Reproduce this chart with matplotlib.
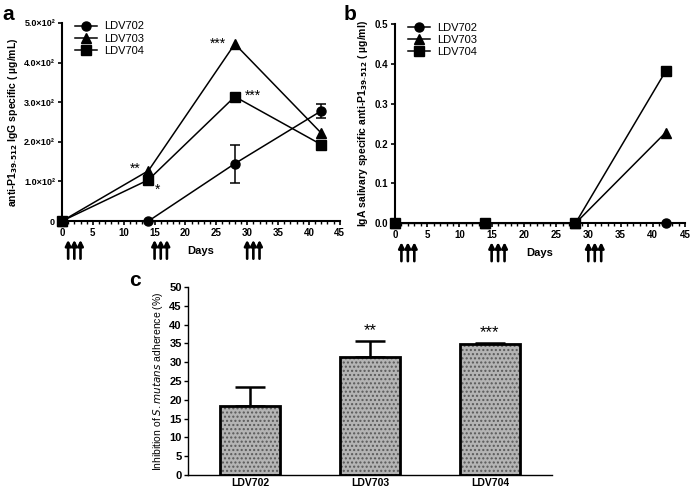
import matplotlib
matplotlib.use("Agg")
import matplotlib.pyplot as plt
from matplotlib.ticker import MultipleLocator, FixedLocator

plt.rcParams['font.family'] = ['Liberation Sans', 'DejaVu Sans']

# ---------------- data ----------------
days = [0, 14, 28, 42]
igg_702 = [0, 0, 145, 278]
igg_702_err = [0, 0, 48, 18]
igg_703 = [0, 127, 447, 222]
igg_704 = [0, 104, 314, 193]

iga_702 = [0, 0, 0, 0]
iga_703 = [0, 0, 0, 0.228]
iga_704 = [0, 0, 0, 0.382]

immun_days = [1, 2, 3, 15, 16, 17, 30, 31, 32]

groups = ['LDV702', 'LDV703', 'LDV704']
inhibition = [18.3, 31.3, 34.8]
inhibition_err = [5.2, 4.3, 0.4]
inhibition_sig = ['', '**', '***']

igg_ticks = [0, 100, 200, 300, 400, 500]
igg_ticklabels = ['0', '1.0×10²', '2.0×10²', '3.0×10²', '4.0×10²', '5.0×10²']

fig = plt.figure(figsize=(6.91, 4.88), dpi=100)

axA = fig.add_axes([0.0897, 0.547, 0.402, 0.406])
axB = fig.add_axes([0.5716, 0.5424, 0.4197, 0.408])
axC = fig.add_axes([0.272, 0.0266, 0.527, 0.3853])


def style_time_axis(ax):
    for s in ['top', 'right']:
        ax.spines[s].set_visible(False)
    for s in ['left', 'bottom']:
        ax.spines[s].set_linewidth(1.5)
    ax.set_xlim(0, 45)
    ax.xaxis.set_major_locator(MultipleLocator(5))
    ax.xaxis.set_minor_locator(MultipleLocator(1))
    ax.tick_params(axis='both', which='major', direction='out', length=3, width=1.2, labelsize=7, pad=2)
    ax.tick_params(axis='x', which='minor', direction='out', length=2, width=1)
    for lab in ax.get_xticklabels() + ax.get_yticklabels():
        lab.set_fontweight('bold')
    ax.text(0.5, -0.15, 'Days', transform=ax.transAxes, ha='center', va='center',
            fontsize=8, fontweight='bold')
    for d in immun_days:
        ax.annotate('', xy=(d, -0.095), xycoords=('data', 'axes fraction'),
                    xytext=(d, -0.19), textcoords=('data', 'axes fraction'),
                    arrowprops=dict(arrowstyle='-|>', lw=1.9, color='black',
                                    mutation_scale=8, shrinkA=0, shrinkB=0),
                    annotation_clip=False)


line_kw = dict(color='black', lw=1.1, markersize=6.5, clip_on=False, zorder=3)
leg_kw = dict(loc='upper left', bbox_to_anchor=(0.03, 1.03), frameon=False,
              fontsize=8, handlelength=2.0, handletextpad=0.6,
              labelspacing=0.2, borderaxespad=0)

# ---------------- panel a ----------------
hA1 = axA.errorbar(days, igg_702, yerr=igg_702_err, marker='o', capsize=3.5,
                   elinewidth=1.1, capthick=1.1, label='LDV702', **line_kw)
hA2, = axA.plot(days, igg_703, marker='^', label='LDV703', **line_kw)
hA3, = axA.plot(days, igg_704, marker='s', label='LDV704', **line_kw)
axA.set_ylim(0, 500)
axA.yaxis.set_major_locator(FixedLocator(igg_ticks))
axA.set_yticklabels(igg_ticklabels)
style_time_axis(axA)
for lab in axA.get_yticklabels():
    lab.set_fontsize(6.5)
axA.set_ylabel(r'anti-P1$_{\mathbf{39\text{-}512}}$ IgG specific ( µg/mL)',
               fontsize=7.5, fontweight='bold', labelpad=3)
axA.text(11.8, 132, '**', fontsize=10, ha='center', va='center')
axA.text(15.4, 80, '*', fontsize=10, ha='center', va='center')
axA.text(25.3, 447, '***', fontsize=10, ha='center', va='center')
axA.text(31.0, 316, '***', fontsize=10, ha='center', va='center')
axA.legend([hA1[0], hA2, hA3], groups, **leg_kw)

# ---------------- panel b ----------------
axB.plot(days, iga_702, marker='o', label='LDV702', **line_kw)
axB.plot(days, iga_703, marker='^', label='LDV703', **line_kw)
axB.plot(days, iga_704, marker='s', label='LDV704', **line_kw)
axB.set_ylim(0, 0.5)
axB.yaxis.set_major_locator(MultipleLocator(0.1))
axB.yaxis.set_major_formatter(matplotlib.ticker.FormatStrFormatter('%.1f'))
style_time_axis(axB)
axB.set_ylabel(r'IgA salivary specific anti-P1$_{\mathbf{39\text{-}512}}$ ( µg/ml)',
               fontsize=7.5, fontweight='bold', labelpad=3)
axB.legend(**leg_kw)

# ---------------- panel c ----------------
xpos = list(range(len(groups)))
bars = axC.bar(xpos, inhibition, width=0.5, color='#b4b4b4', edgecolor='black',
               linewidth=2, hatch='....', zorder=2)
for b in bars:
    b._hatch_color = (0.35, 0.35, 0.35, 1.0)
axC.errorbar(xpos, inhibition, yerr=[[0] * len(groups), inhibition_err], fmt='none',
             ecolor='black', elinewidth=1.8, capsize=11, capthick=1.8, zorder=1)
for x, v, e, s in zip(xpos, inhibition, inhibition_err, inhibition_sig):
    if s:
        axC.text(x, v + e + 0.8, s, ha='center', va='bottom', fontsize=12)
axC.set_xlim(-0.52, 2.52)
axC.set_ylim(0, 50)
axC.yaxis.set_major_locator(MultipleLocator(5))
axC.set_xticks(xpos)
axC.set_xticklabels(groups, fontsize=7.5, fontweight='bold')
axC.tick_params(axis='x', length=0, pad=2)
axC.tick_params(axis='y', direction='out', length=3, width=1, labelsize=8, pad=1.5)
for lab in axC.get_yticklabels():
    lab.set_fontweight('bold')
for s in ['top', 'right']:
    axC.spines[s].set_visible(False)
axC.spines['left'].set_linewidth(1.0)
axC.spines['bottom'].set_linewidth(1.0)
axC.set_ylabel(r'Inhibition of $\it{S. mutans}$ adherence (%)', fontsize=7.5, labelpad=3)

# panel letters
fig.text(0.003, 0.99, 'a', fontsize=15, fontweight='bold', va='top', ha='left')
fig.text(0.497, 0.99, 'b', fontsize=15, fontweight='bold', va='top', ha='left')
fig.text(0.187, 0.445, 'c', fontsize=15, fontweight='bold', va='top', ha='left')

fig.savefig('out.png', dpi=100)
